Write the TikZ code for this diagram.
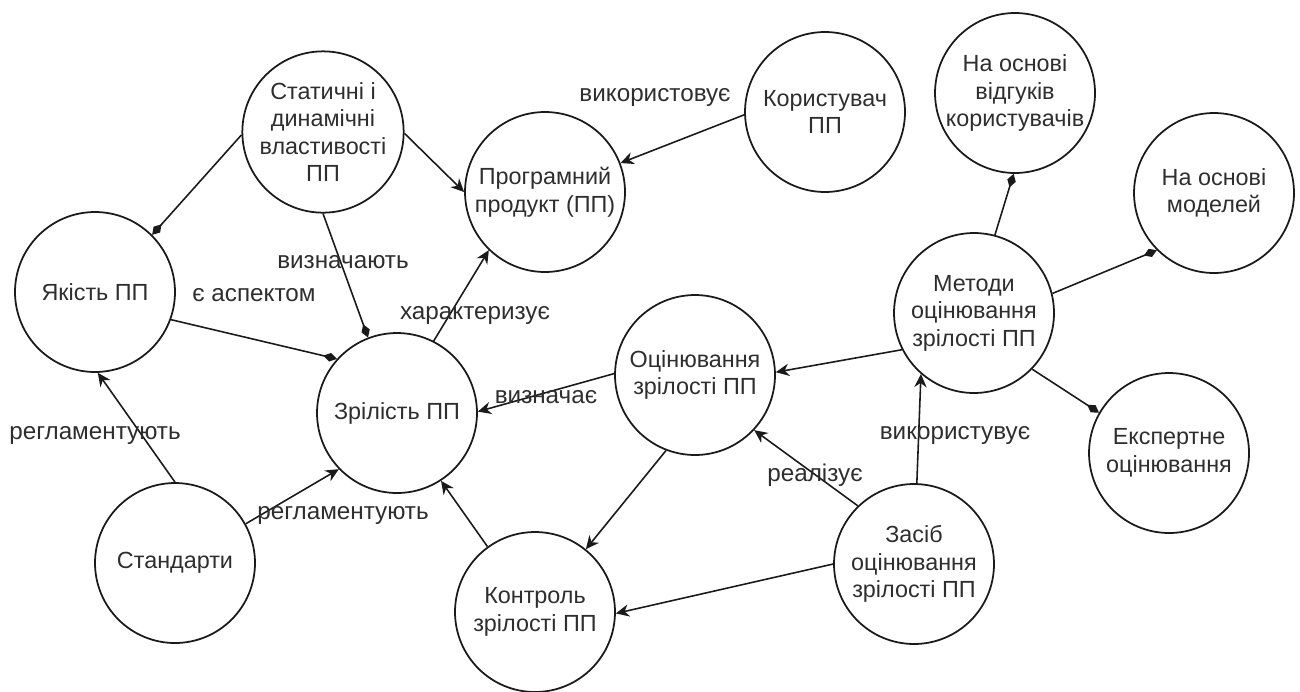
\documentclass[tikz,border=0pt]{standalone}
\usepackage{fontspec}
\setmainfont{Liberation Sans}
\usetikzlibrary{arrows.meta}
\definecolor{inkline}{HTML}{1A1A1A}
\definecolor{inktext}{HTML}{2E2E2E}
\begin{document}
\begin{tikzpicture}[x=0.02cm, y=-0.02cm,
  concept/.style={circle, draw=inkline, line width=1pt, minimum size=3.2cm,
    inner sep=0pt, align=center, text=inktext,
    font=\fontsize{13.3}{15.7}\selectfont},
  rel/.style={draw=inkline, line width=0.9pt,
    -{Stealth[length=7.5pt,width=7pt,inset=2.4pt]}},
  part/.style={draw=inkline, line width=0.9pt,
    -{Diamond[length=8pt,width=5pt]}},
  lbl/.style={text=inktext, inner sep=0pt,
    font=\fontsize{13.8}{16}\selectfont}]
\useasboundingbox (0,0) rectangle (1300,691);

% concepts
\node[concept] (S)  at (323,132)  {Статичні і\\динамічні\\властивості\\ПП};
\node[concept] (Q)  at (95,292)   {Якість ПП};
\node[concept] (P)  at (545,192)  {Програмний\\продукт (ПП)};
\node[concept] (U)  at (825,112)  {Користувач\\ПП};
\node[concept] (M)  at (397,413)  {Зрілість ПП};
\node[concept] (St) at (175,563)  {Стандарти};
\node[concept] (K)  at (535,612)  {Контроль\\зрілості ПП};
\node[concept] (O)  at (695,375)  {Оцінювання\\зрілості ПП};
\node[concept] (Z)  at (914,564)  {Засіб\\оцінювання\\зрілості ПП};
\node[concept] (Me) at (974,313)  {Методи\\оцінювання\\зрілості ПП};
\node[concept] (V)  at (1015,93)  {На основі\\відгуків\\користувачів};
\node[concept] (Mo) at (1214,193) {На основі\\моделей};
\node[concept] (E)  at (1169,453) {Експертне\\оцінювання};

% relations
\draw[part] (S.182)  -- (Q.45);
\draw[rel]  (S.-1)   -- (P.180);
\draw[part] (S.-90)  -- (M.111);
\draw[part] (Q.-20)  -- (M.138);
\draw[rel]  (M.63)   -- (P.226);
\draw[rel]  (U.182)  -- (P.21);
\draw[rel]  (St.90)  -- (Q.-88);
\draw[rel]  (St.29)  -- (M.224);
\draw[rel]  (O.179)  -- (M.1);
\draw[rel]  (O.249)  -- (K.51);
\draw[rel]  (K.126)  -- (M.-57);
\draw[rel]  (Z.180)  -- (K.-1);
\draw[rel]  (Z.134)  -- (O.-43);
\draw[rel]  (Z.88)   -- (Me.229);
\draw[rel]  (Me.207) -- (O.2);
\draw[part] (Me.75)  -- (V.-91);
\draw[part] (Me.14)  -- (Mo.225);
\draw[part] (Me.-44) -- (E.150);

% relation labels
\node[lbl] (lU)   at (655,97)  {використовує};
\node[lbl] (lSM)  at (343,262) {визначають};
\node[lbl] (lQM)  at (254,295) {є аспектом};
\node[lbl] (lMP)  at (475,315) {характеризує};
\node[lbl] (lOM)  at (546,397) {визначає};
\node[lbl] (lStQ) at (95,435)  {регламентують};
\node[lbl] (lStM) at (343,515) {регламентують};
\node[lbl] (lZO)  at (815,475) {реалізує};
\node[lbl] (lZMe) at (955,435) {використувує};
\end{tikzpicture}
\end{document}
